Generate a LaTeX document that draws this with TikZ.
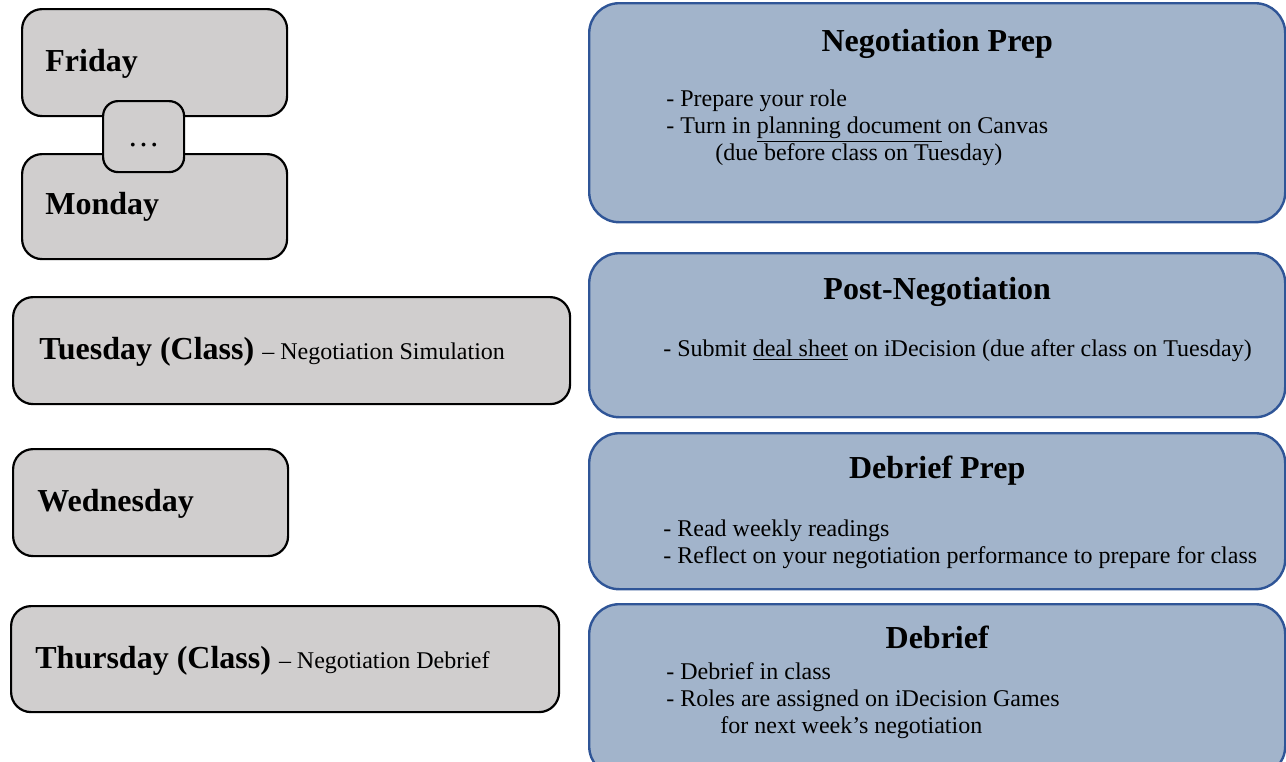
\documentclass[tikz,border=0pt]{standalone}
\usepackage{fontspec}
\setmainfont{Liberation Serif}
\usetikzlibrary{positioning}
\definecolor{daygray}{HTML}{D0CECE}
\definecolor{taskblue}{HTML}{A2B4CB}
\definecolor{taskedge}{HTML}{2F5597}

\begin{document}
\begin{tikzpicture}[x=0.5pt, y=-0.5pt,
		daybox/.style={draw=black, line width=1.1pt, fill=daygray, rounded corners=10pt, anchor=north west, inner sep=0pt},
		dotbox/.style={daybox, rounded corners=7.5pt, text height=10pt, text depth=0pt, font=\fontsize{16}{19}\selectfont},
		taskbox/.style={draw=taskedge, line width=1.2pt, fill=taskblue, rounded corners=15pt, anchor=north west, inner sep=0pt, minimum width=348pt},
		daytext/.style={anchor=base west, inner sep=0pt, font=\fontsize{16}{19}\selectfont\bfseries},
		tasktitle/.style={anchor=base, inner sep=0pt, font=\fontsize{16}{19}\selectfont\bfseries},
		taskbody/.style={anchor=base west, inner sep=0pt, align=left, font=\fontsize{12}{13.5}\selectfont}]
		\useasboundingbox (0,0) rectangle (1286,761);
		% days
		\node[daybox, minimum width=132.5pt, minimum height=53.5pt] (fri) at (21,8) {};
		\node[daybox, minimum width=132.5pt, minimum height=52.5pt] (mon) at (21,153) {};
		\node[dotbox, minimum width=40.5pt, minimum height=35.5pt] (dots) at (102,100) {\dots};
		\node[daytext] (fritext) at ([shift={(24,9)}]fri.west) {Friday};
		\node[daytext] (montext) at ([shift={(24,8)}]mon.west) {Monday};
		\node[daybox, minimum width=278.5pt, minimum height=53.5pt] (tue) at (12,296) {};
		\node[daytext] (tuetext) at ([shift={(27,9)}]tue.west) {Tuesday (Class) \mdseries\fontsize{12}{14}\selectfont -- Negotiation Simulation};
		\node[daybox, minimum width=137.5pt, minimum height=53.5pt] (wed) at (12,448) {};
		\node[daytext] (wedtext) at ([shift={(25,9)}]wed.west) {Wednesday};
		\node[daybox, minimum width=274pt, minimum height=53pt] (thu) at (10,605) {};
		\node[daytext] (thutext) at ([shift={(25,9)}]thu.west) {Thursday (Class) \mdseries\fontsize{12}{14}\selectfont -- Negotiation Debrief};
		% tasks
		\node[taskbox, minimum height=109.5pt] (prep) at (588,2) {};
		\node[tasktitle] (preptitle) at ([shift={(0,49)}]prep.north) {Negotiation Prep};
		\node[taskbody] (prepbody) at ([shift={(78,158)}]prep.north west) {- Prepare your role\\- Turn in \underline{planning document} on Canvas\\\hspace*{24.5pt}(due before class on Tuesday)};
		\node[taskbox, minimum height=82pt] (post) at (588,252) {};
		\node[tasktitle] (posttitle) at ([shift={(0,47)}]post.north) {Post-Negotiation};
		\node[taskbody] (postbody) at ([shift={(75,104)}]post.north west) {- Submit \underline{deal sheet} on iDecision (due after class on Tuesday)};
		\node[taskbox, minimum height=78pt] (dprep) at (588,432) {};
		\node[tasktitle] (dpreptitle) at ([shift={(0,46)}]dprep.north) {Debrief Prep};
		\node[taskbody] (dprepbody) at ([shift={(75,131)}]dprep.north west) {- Read weekly readings\\- Reflect on your negotiation performance to prepare for class};
		\node[taskbox, minimum height=86pt] (debrief) at (588,603) {};
		\node[tasktitle] (debrieftitle) at ([shift={(0,45)}]debrief.north) {Debrief};
		\node[taskbody] (debriefbody) at ([shift={(78,130)}]debrief.north west) {- Debrief in class\\- Roles are assigned on iDecision Games\\\hspace*{27pt}for next week’s negotiation};
\end{tikzpicture}
\end{document}
